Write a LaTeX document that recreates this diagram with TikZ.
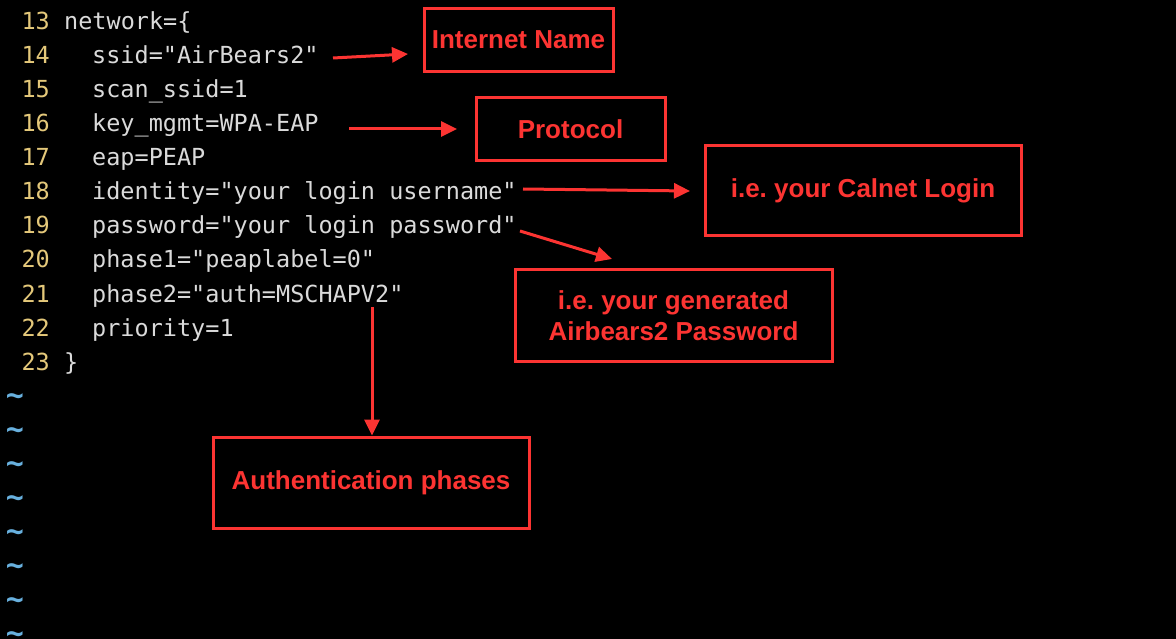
\documentclass[tikz,border=0pt]{standalone}
\usepackage{fontspec}
\setmonofont{DejaVu Sans Mono}
\newfontfamily\notefont{Liberation Sans}
\usepackage{tikz}
\usetikzlibrary{positioning}
\usetikzlibrary{arrows.meta}
\frenchspacing
\definecolor{codegray}{RGB}{218,218,218}
\definecolor{numyellow}{RGB}{228,200,122}
\definecolor{tildeblue}{RGB}{104,176,222}
\definecolor{markred}{RGB}{252,52,50}
\tikzset{codeline/.style={anchor=base west,inner sep=0pt,text=codegray,font=\fontsize{23.5}{28}\ttfamily},
	lineno/.style={anchor=base east,inner sep=0pt,text=numyellow,font=\fontsize{23.5}{28}\ttfamily},
	tildemark/.style={anchor=base,inner sep=0pt,text=tildeblue,font=\fontsize{30}{34}\ttfamily\bfseries},
	notebox/.style={draw=markred,line width=3pt,text=markred,align=center,font=\fontsize{26}{31}\notefont\bfseries},
	pointer/.style={draw=markred,line width=3pt,-{Triangle[length=16pt,width=15pt]}}}

\begin{document}
\begin{tikzpicture}[x=1pt,y=-1pt]
		\fill[black] (0,0) rectangle (1176,639);
		\useasboundingbox (0,0) rectangle (1176,639);
		\foreach \n [count=\i from 0] in {13,...,23}
			\node[lineno] (n\n) at (50,30+34*\i) {\n};
		\foreach \i in {11,...,18}
			\node[tildemark] (t\i) at (15,31+34*\i) {\textasciitilde};
		\node[codeline] (l13) at (64,30) {network=\{};
		\node[codeline] (l14) at (92,64) {ssid="AirBears2"};
		\node[codeline] (l15) at (92,98) {scan\_ssid=1};
		\node[codeline] (l16) at (92,132) {key\_mgmt=WPA-EAP};
		\node[codeline] (l17) at (92,166) {eap=PEAP};
		\node[codeline] (l18) at (92,200) {identity="your login username"};
		\node[codeline] (l19) at (92,234) {password="your login password"};
		\node[codeline] (l20) at (92,268) {phase1="peaplabel=0"};
		\node[codeline] (l21) at (92,302) {phase2="auth=MSCHAPV2"};
		\node[codeline] (l22) at (92,336) {priority=1};
		\node[codeline] (l23) at (64,370) {\}};
		\node[notebox,minimum width=189pt,minimum height=63pt] (name) at (518.5,40) {Internet Name};
		\node[notebox,minimum width=189pt,minimum height=63pt] (proto) at (570.5,129) {Protocol};
		\node[notebox,minimum width=316pt,minimum height=90pt] (login) at (863,191) {i.e. your Calnet Login};
		\node[notebox,minimum width=317pt,minimum height=91pt] (pass) at (673.5,315.5) {i.e. your generated\\Airbears2 Password};
		\node[notebox,minimum width=316pt,minimum height=91pt] (auth) at (371,482.5) {Authentication phases};
		\coordinate (ssidend) at (333,58);
		\coordinate (ssidtip) at (408,54);
		\coordinate (keyend) at (349,129);
		\coordinate (keytip) at (457,129);
		\coordinate (idend) at (523,189);
		\coordinate (idtip) at (690,191);
		\coordinate (pwend) at (520,231);
		\coordinate (pwtip) at (612,259);
		\coordinate (phaseend) at (372,307);
		\draw[pointer] (ssidend) -- (ssidtip);
		\draw[pointer] (keyend) -- (keytip);
		\draw[pointer] (idend) -- (idtip);
		\draw[pointer] (pwend) -- (pwtip);
		\draw[pointer] (phaseend) -- (auth.north -| phaseend);
	\end{tikzpicture}
\end{document}
